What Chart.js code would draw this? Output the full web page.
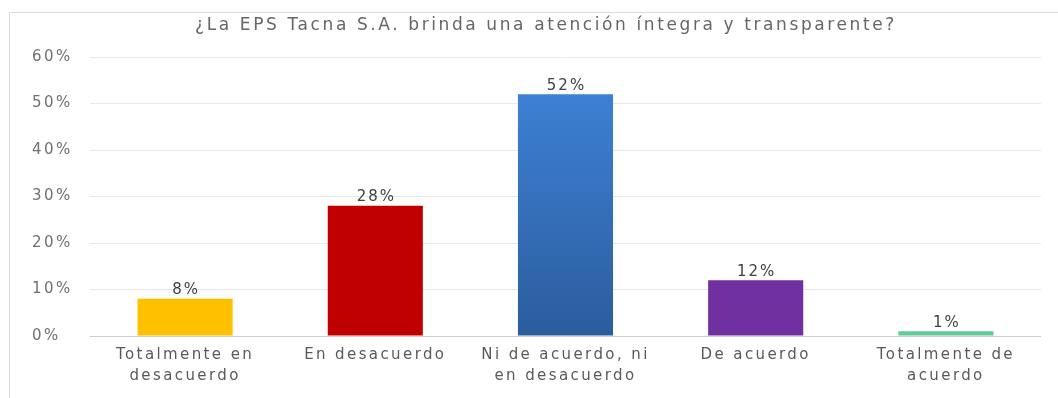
<!DOCTYPE html>
<html>
<head>
<meta charset="utf-8">
<script src="https://cdn.jsdelivr.net/npm/chart.js@4/dist/chart.umd.min.js"></script>
<style>
  html, body { margin: 0; padding: 0; background: #ffffff; }
  #wrap { width: 1058px; height: 398px; }
</style>
</head>
<body>
<div id="wrap"><canvas id="encuesta"></canvas></div>
<script>
var titulo = '¿La EPS Tacna S.A. brinda una atención íntegra y transparente?';
var categorias = [
    ['Totalmente en', 'desacuerdo'],
    'En desacuerdo',
    ['Ni de acuerdo, ni', 'en desacuerdo'],
    'De acuerdo',
    ['Totalmente de', 'acuerdo']
];
var porcentajes = [8, 28, 52, 12, 1];
var colores = ['#ffc000', '#c00000', null, '#7030a0', '#5fcb93'];
var ticksY = [0, 10, 20, 30, 40, 50, 60];

var fuente = 'DejaVu Sans, sans-serif';

// blue bar gets a top-to-bottom shade
function colorBarra(context) {
    var c = colores[context.dataIndex];
    if (c) return c;
    var chart = context.chart;
    if (!chart.chartArea) return '#3471bd';
    var y = chart.scales.y;
    var g = chart.ctx.createLinearGradient(0, y.getPixelForValue(porcentajes[context.dataIndex]), 0, y.getPixelForValue(0));
    g.addColorStop(0, '#3d80d4');
    g.addColorStop(1, '#2b5d9d');
    return g;
}

var extras = {
    id: 'extras',
    beforeDraw: function (chart) {
        var ctx = chart.ctx;
        ctx.letterSpacing = '2.4px';
        ctx.save();
        ctx.strokeStyle = '#dadada';
        ctx.lineWidth = 1;
        ctx.beginPath();
        ctx.moveTo(9.5, 400);
        ctx.lineTo(9.5, 12.5);
        ctx.lineTo(1060, 12.5);
        ctx.stroke();
        ctx.letterSpacing = '2.6px';
        ctx.fillStyle = '#666666';
        ctx.font = '17px ' + fuente;
        ctx.textAlign = 'center';
        ctx.textBaseline = 'middle';
        ctx.fillText(titulo, 546, 26);
        ctx.restore();
    },
    afterDatasetsDraw: function (chart) {
        var ctx = chart.ctx;
        ctx.save();
        ctx.letterSpacing = '2px';
        ctx.fillStyle = '#404040';
        ctx.font = '15px ' + fuente;
        ctx.textAlign = 'center';
        ctx.textBaseline = 'bottom';
        chart.getDatasetMeta(0).data.forEach(function (bar, i) {
            ctx.fillText(porcentajes[i] + '%', bar.x + 1, bar.y - 1);
        });
        ctx.restore();
    }
};

var ctxEnc = document.getElementById('encuesta').getContext('2d');
var encuesta = new Chart(ctxEnc, {
    type: 'bar',
    data: {
        labels: categorias,
        datasets: [{
            label: 'Porcentaje',
            data: porcentajes,
            backgroundColor: colorBarra,
            borderWidth: 0,
            barPercentage: 0.5,
            categoryPercentage: 1
        }]
    },
    options: {
        responsive: true,
        maintainAspectRatio: false,
        animation: false,
        layout: {
            padding: { top: 57, left: 32, right: 17, bottom: 0 }
        },
        plugins: {
            legend: { display: false },
            tooltip: { enabled: false }
        },
        scales: {
            x: {
                grid: { display: false, drawTicks: false },
                border: { display: false },
                ticks: {
                    color: '#595959',
                    font: { family: fuente, size: 15, lineHeight: '21px' },
                    padding: 9,
                    maxRotation: 0,
                    autoSkip: false
                },
                afterFit: function (scale) { scale.height = 62; }
            },
            y: {
                min: 0,
                max: 60,
                afterBuildTicks: function (scale) {
                    scale.ticks = ticksY.map(function (v) { return { value: v }; });
                },
                grid: {
                    drawTicks: false,
                    color: function (c) { return c.tick && c.tick.value === 0 ? '#cfcfcf' : '#e9e9e9'; }
                },
                border: { display: false },
                ticks: {
                    color: '#707070',
                    font: { family: fuente, size: 15 },
                    crossAlign: 'far',
                    padding: 0,
                    callback: function (v) { return v + '%'; }
                },
                afterFit: function (scale) { scale.width = 58; }
            }
        }
    },
    plugins: [extras]
});
</script>
</body>
</html>
